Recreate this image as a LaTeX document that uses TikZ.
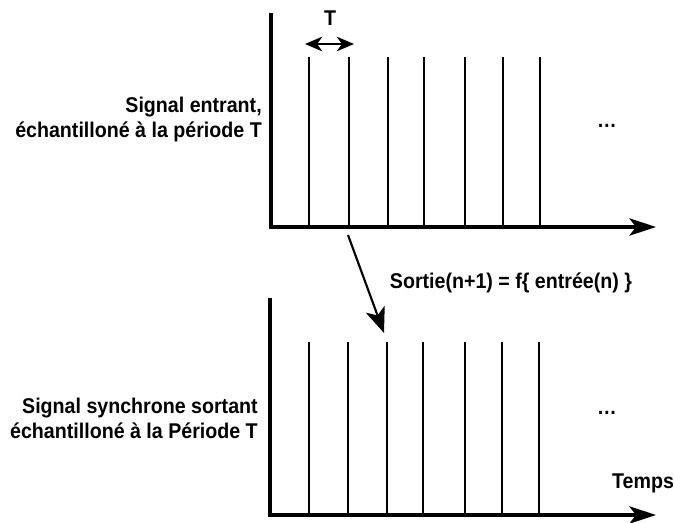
\documentclass[tikz,border=0pt]{standalone}
\usepackage{fontspec}
\setmainfont{Liberation Sans}[FakeStretch=0.92]
\usetikzlibrary{arrows.meta}

\begin{document}
\begin{tikzpicture}[x=0.75pt,y=-0.75pt,
    axe/.style={line width=2.3pt,-{Stealth[length=20pt,width=13pt,inset=5pt]}},
    ech/.style={line width=1.1pt},
    lbl/.style={font=\bfseries\fontsize{16}{18.8}\selectfont,inner sep=0pt}]
    \useasboundingbox (0,0) rectangle (674,522);

    % signal entrant
    \coordinate (h1) at (271,13);
    \coordinate (o1) at (271,227);
    \coordinate (x1) at (656,227);
    \foreach \x in {309,349,388,424,465,503,540}{
        \draw[ech] (\x,57) -- (\x,227);
    }
    \draw[axe] (h1) -- (o1) -- (x1);

    \coordinate (ta) at (305,44);
    \coordinate (tb) at (354,44);
    \draw[line width=1.5pt,{Stealth[length=13pt,width=11pt,inset=4pt]}-{Stealth[length=13pt,width=11pt,inset=4pt]}] (ta) -- (tb);
    \node[lbl] (per) at (330,18) {T};

    \node[lbl,anchor=east,align=right] (ent) at (262,119.5) {Signal entrant,\\ échantilloné à la période T};
    \node[lbl,anchor=base] (pts1) at (607,127) {…};

    % passage
    \coordinate (d1) at (348,235);
    \coordinate (d2) at (384,333);
    \draw[line width=1.6pt,-{Stealth[length=19pt,width=15pt,inset=5pt]}] (d1) -- (d2);
    \node[lbl] (rel) at (511,283) {Sortie(n+1) = f\{ entrée(n) \}};

    % signal sortant
    \coordinate (h2) at (270,298);
    \coordinate (o2) at (270,515);
    \coordinate (x2) at (656,515);
    \foreach \x in {309,348,387,423,465,502,539}{
        \draw[ech] (\x,342) -- (\x,515);
    }
    \draw[axe] (h2) -- (o2) -- (x2);

    \node[lbl,anchor=east,align=right] (sor) at (258,418.5) {Signal synchrone sortant\\ échantilloné à la Période T};
    \node[lbl,anchor=base] (pts2) at (607,414) {…};
    \node[lbl] (tps) at (643,483) {Temps};
\end{tikzpicture}
\end{document}
